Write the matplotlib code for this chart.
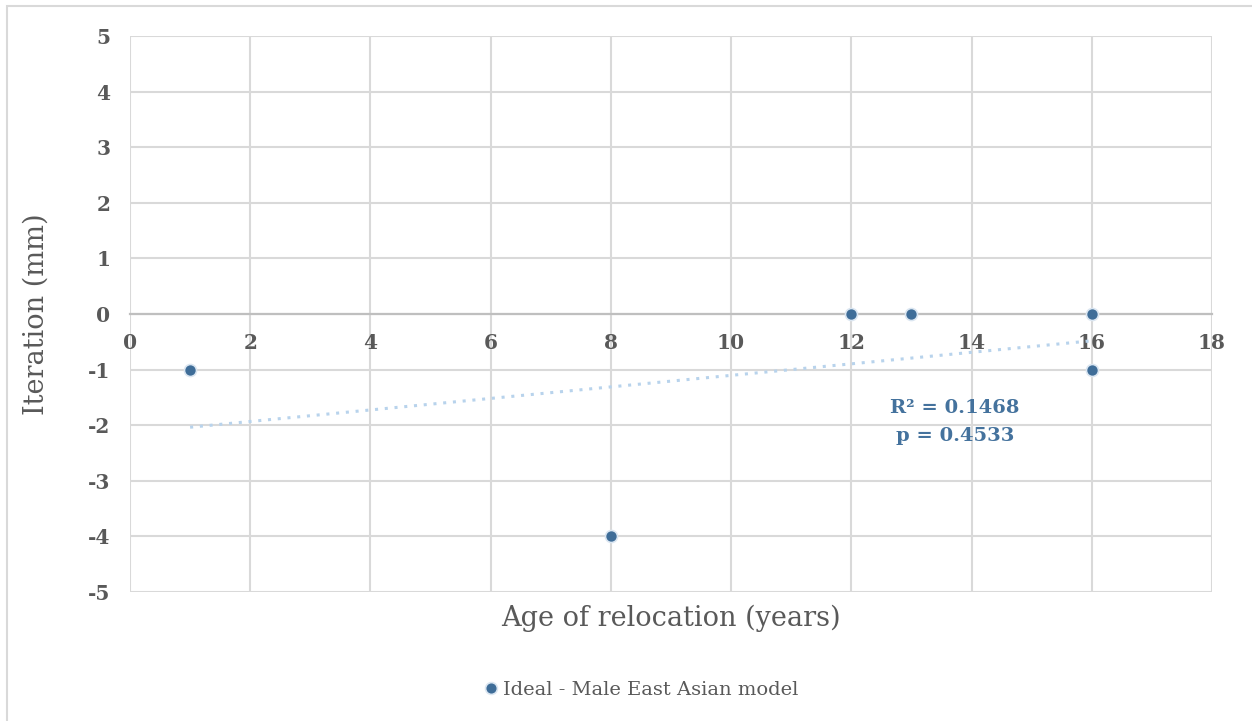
import numpy as np
import matplotlib.pyplot as plt
from matplotlib.patches import Rectangle
from matplotlib.lines import Line2D

plt.rcParams["axes.unicode_minus"] = False

# Data
age = [1, 8, 12, 13, 16, 16]
iteration = [-1, -4, 0, 0, 0, -1]
x_ticks = [0, 2, 4, 6, 8, 10, 12, 14, 16, 18]
y_ticks = [-5, -4, -3, -2, -1, 0, 1, 2, 3, 4, 5]
series_name = "Ideal - Male East Asian model"
r2_text = "R² = 0.1468"
p_text = "p = 0.4533"

FONT = "DejaVu Serif"
TXT = "#595959"
GRID = "#d9d9d9"
BLUE = "#3f6d98"

fig = plt.figure(figsize=(12.52, 7.21), dpi=100)
fig.patch.set_facecolor("white")
ax = fig.add_axes([130/1252, 1 - 592/721, 1082/1252, 556/721])

ax.set_xlim(0, 18)
ax.set_ylim(-5, 5)
ax.set_xticks(x_ticks)
ax.set_yticks(y_ticks)
ax.grid(True, color=GRID, lw=1.5, zorder=0)
ax.set_axisbelow(True)
for s in ["top", "right", "left"]:
    ax.spines[s].set_visible(False)
ax.spines["bottom"].set_position(("data", 0))
ax.spines["bottom"].set_color("#bfbfbf")
ax.spines["bottom"].set_linewidth(1.6)
ax.tick_params(length=0)
ax.tick_params(axis="y", pad=14)
ax.tick_params(axis="x", pad=14)
for lab in ax.get_xticklabels() + ax.get_yticklabels():
    lab.set_fontfamily(FONT)
    lab.set_fontweight("bold")
    lab.set_fontsize(14.5)
    lab.set_color(TXT)

# trendline
xa = np.array(age, float)
ya = np.array(iteration, float)
m, b = np.polyfit(xa, ya, 1)
xt = np.array([xa.min(), xa.max()])
ax.plot(xt, m*xt + b, linestyle=(0, (1, 2.2)), color="#b8d3ec", lw=2.2, zorder=2)

ax.scatter(age, iteration, s=75, color=BLUE, edgecolor="#dbe6f1", linewidth=1.2, zorder=3)

ax.text(13.72, -1.69, r2_text, ha="center", va="center", fontfamily=FONT,
        fontweight="bold", fontsize=14, color="#44729d")
ax.text(13.72, -2.19, p_text, ha="center", va="center", fontfamily=FONT,
        fontweight="bold", fontsize=14, color="#44729d")

fig.text(671/1252, 1 - 618/721, "Age of relocation (years)", ha="center", va="center",
         fontfamily=FONT, fontsize=19.5, color=TXT)
fig.text(36/1252, 1 - 314/721, "Iteration (mm)", ha="center", va="center", rotation=90,
         fontfamily=FONT, fontsize=19.5, color=TXT)

handle = Line2D([], [], linestyle="none", marker="o", markersize=8.5, color=BLUE,
                markeredgecolor="#dbe6f1", markeredgewidth=1.2)
fig.legend([handle], [series_name], loc="center", bbox_to_anchor=(640/1252, 1 - 690/721),
           frameon=False, handletextpad=0.1, prop={"family": FONT, "size": 14.0},
           labelcolor=TXT, handlelength=1.0)

fig.patches.append(Rectangle((7/1252, -0.1), 1.2, 1 - 6/721 + 0.1, transform=fig.transFigure,
                             fill=False, edgecolor=GRID, lw=1.5, clip_on=False))

fig.savefig("out.png", dpi=100, facecolor="white")
